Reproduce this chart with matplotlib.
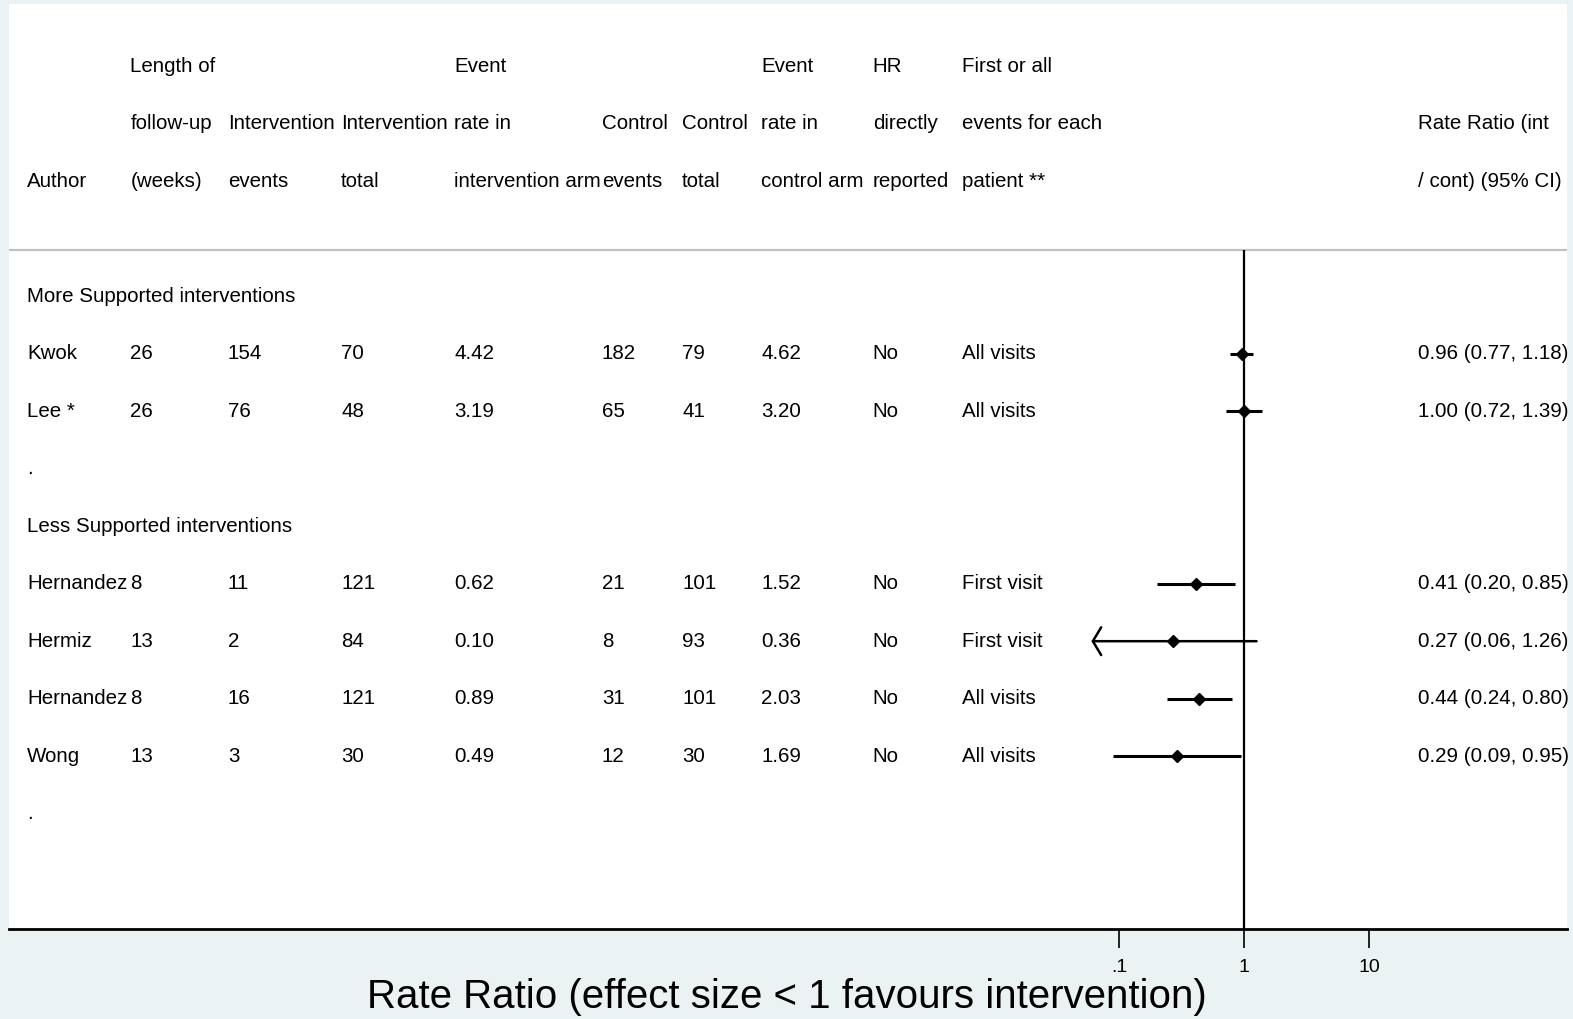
import matplotlib.pyplot as plt
import matplotlib.transforms as mtransforms

plt.rcParams['font.family'] = ['Liberation Sans', 'DejaVu Sans']

# study data
authors = ["Kwok", "Lee *", "Hernandez", "Hermiz", "Hernandez", "Wong"]
weeks = ["26", "26", "8", "13", "8", "13"]
int_events = ["154", "76", "11", "2", "16", "3"]
int_total = ["70", "48", "121", "84", "121", "30"]
int_rate = ["4.42", "3.19", "0.62", "0.10", "0.89", "0.49"]
ctl_events = ["182", "65", "21", "8", "31", "12"]
ctl_total = ["79", "41", "101", "93", "101", "30"]
ctl_rate = ["4.62", "3.20", "1.52", "0.36", "2.03", "1.69"]
hr_reported = ["No", "No", "No", "No", "No", "No"]
first_all = ["All visits", "All visits", "First visit", "First visit", "All visits", "All visits"]
rr = [0.96, 1.00, 0.41, 0.27, 0.44, 0.29]
rr_lo = [0.77, 0.72, 0.20, 0.06, 0.24, 0.09]
rr_hi = [1.18, 1.39, 0.85, 1.26, 0.80, 0.95]
lo_arrow = [False, False, False, True, False, False]

groups = ["More Supported interventions", "Less Supported interventions"]

headers = [
    ["", "", "Author"],
    ["Length of", "follow-up", "(weeks)"],
    ["", "Intervention", "events"],
    ["", "Intervention", "total"],
    ["Event", "rate in", "intervention arm"],
    ["", "Control", "events"],
    ["", "Control", "total"],
    ["Event", "rate in", "control arm"],
    ["HR", "directly", "reported"],
    ["First or all", "events for each", "patient **"],
    ["", "Rate Ratio (int", "/ cont) (95% CI)"],
]

# layout (row positions, column x in pixels of a 1568x1016 view)
W, H = 1573, 1019
sx, sy = W / 1568, H / 1016
study_rows = [5, 6, 9, 10, 11, 12]
group_rows = [4, 8]
blank_rows = [7, 13]
col_px = [27, 130, 227, 340, 453, 600, 680, 759, 870, 959, 1413]
left_px, right_px, top_px, bottom_px = 9 * sx, 1562 * sx, 4 * sy, 926 * sy

bg = '#EAF2F3'
fig = plt.figure(figsize=(W / 100, H / 100), dpi=100, facecolor=bg)
ax = fig.add_axes([left_px / W, (H - bottom_px) / H,
                   (right_px - left_px) / W, (bottom_px - top_px) / H])
ax.set_facecolor('white')
ax.set_xscale('log')
ax.set_xlim(10 ** -9.888, 10 ** 2.586)
ax.set_ylim(15, -1.08)

for s in ['top', 'left', 'right']:
    ax.spines[s].set_visible(False)
ax.spines['bottom'].set_linewidth(2)
ax.set_yticks([])
ax.set_xticks([0.1, 1, 10])
ax.set_xticklabels(['.1', '1', '10'])
ax.minorticks_off()
ax.tick_params(axis='x', length=14, width=1.2, pad=8, labelsize=14)

trans = mtransforms.blended_transform_factory(ax.transAxes, ax.transData)
cx = [(p * sx - left_px) / (right_px - left_px) for p in col_px]
fs = 14.8

# header
for col, lines in enumerate(headers):
    for r, t in enumerate(lines):
        if t:
            ax.text(cx[col], r, t, transform=trans, ha='left', va='center',
                    fontsize=fs, clip_on=False)

ax.axhline(3.19, color='#C0C0C0', lw=1.6)

for g, y in zip(groups, group_rows):
    ax.text(cx[0], y, g, transform=trans, ha='left', va='center', fontsize=fs)
for y in blank_rows:
    ax.text(cx[0], y, ".", transform=trans, ha='left', va='center', fontsize=fs)

columns = [authors, weeks, int_events, int_total, int_rate, ctl_events,
           ctl_total, ctl_rate, hr_reported, first_all]
for i, y in enumerate(study_rows):
    for col, vals in enumerate(columns):
        ax.text(cx[col], y, vals[i], transform=trans, ha='left', va='center',
                fontsize=fs, clip_on=False)
    ax.text(cx[10], y, f"{rr[i]:.2f} ({rr_lo[i]:.2f}, {rr_hi[i]:.2f})",
            transform=trans, ha='left', va='center', fontsize=fs, clip_on=False)

# null line
ax.vlines(1, 3.19, 15, color='black', lw=1.6, zorder=2)

# confidence intervals and point estimates
for i, y in enumerate(study_rows):
    if lo_arrow[i]:
        ax.annotate('', xy=(rr_lo[i], y), xytext=(rr_hi[i], y),
                    arrowprops=dict(arrowstyle='->,head_length=0.3,head_width=0.5',
                                    mutation_scale=20, lw=1.8, color='black',
                                    shrinkA=0, shrinkB=0), zorder=3)
    else:
        ax.plot([rr_lo[i], rr_hi[i]], [y, y], color='black', lw=2.2,
                solid_capstyle='butt', zorder=3)
    ax.plot(rr[i], y, marker='D', color='black', markersize=6.2, zorder=4)

fig.text(0.5, (H - 997) / H, "Rate Ratio (effect size < 1 favours intervention)",
         ha='center', va='center', fontsize=29)

fig.savefig('out.png', dpi=100, facecolor=bg)
